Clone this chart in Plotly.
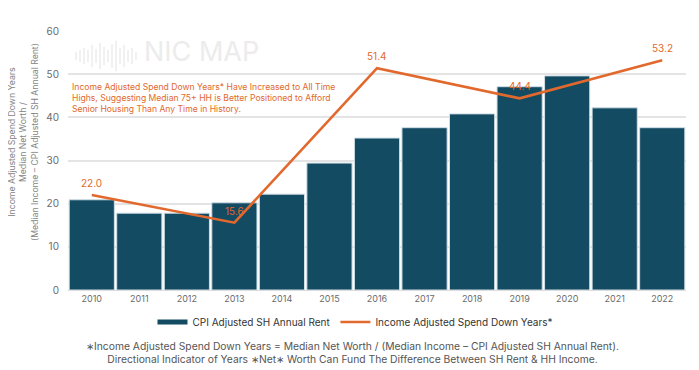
import plotly.graph_objects as go

years = ["2010", "2011", "2012", "2013", "2014", "2015", "2016", "2017", "2018", "2019", "2020", "2021", "2022"]
rent_values = [20.9, 17.8, 17.8, 20.2, 22.2, 29.4, 35.2, 37.6, 40.8, 47.1, 49.6, 42.2, 37.6]
spend_down_years = [22.0, None, None, 15.6, None, None, 51.4, None, None, 44.4, None, None, 53.2]

BAR = "#134B63"
LINE = "#E2692D"
GRAY = "#6b6b6b"
FONT = "Inter"

# page offset (body margin) compensation
OFF = 8
# plot area in reference pixels
L, R, T, B = 68, 686, 31, 290
W, H = R - L, B - T


def px(x):
    return (x - L) / W


def py(y):
    return (B - y) / H


fig = go.Figure()
fig.add_trace(go.Bar(
    x=years, y=rent_values, name="CPI Adjusted SH Annual Rent", showlegend=False,
    marker=dict(color=BAR, line=dict(color="#cfdde4", width=1)),
))
fig.add_trace(go.Scatter(
    x=[years[0]], y=[None], name="CPI Adjusted SH Annual Rent", mode="lines",
    line=dict(color=BAR, width=5),
))
fig.add_trace(go.Scatter(
    x=years, y=spend_down_years, name="Income Adjusted Spend Down Years*",
    mode="lines", connectgaps=True,
    line=dict(color=LINE, width=2.6),
))

fig.update_layout(
    width=699, height=370,
    margin=dict(l=L - OFF, r=699 - R + OFF, t=T - OFF, b=370 - B + OFF, autoexpand=False),
    paper_bgcolor="white", plot_bgcolor="white",
    font=dict(family=FONT, size=9, color=GRAY),
    bargap=0.05,
    showlegend=True,
    legend=dict(orientation="h", x=(355 - OFF) / 699, xanchor="center",
                xref="container", yref="container", y=1 - (322 - OFF) / 370, yanchor="middle",
                font=dict(size=10, color="#333333", family=FONT)),
    xaxis=dict(type="category", showgrid=False, tickfont=dict(size=9, color=GRAY), ticks="",
               showline=True, linecolor="#dddddd", automargin=False),
    yaxis=dict(range=[0, 60], dtick=10, showgrid=True, gridcolor="#e4e4e4",
               gridwidth=1.5, zeroline=False, tickfont=dict(size=10, color=GRAY),
               ticks="", ticklabelstandoff=8, automargin=False),
)

annotations = [
    dict(text="Income Adjusted Spend Down Years<br>Median Net Worth /<br>(Median Income \u2013 CPI Adjusted SH Annual Rent)",
         x=px(23), y=py(142), xref="paper", yref="paper", textangle=-90, showarrow=False,
         font=dict(size=8.7, color="#858585", family=FONT), xanchor="center", yanchor="middle"),
    dict(text="Income Adjusted Spend Down Years* Have Increased to All Time<br>Highs, Suggesting Median 75+ HH is Better Positioned to Afford<br>Senior Housing Than Any Time in History.",
         x=px(70), y=py(98), xref="paper", yref="paper", showarrow=False, align="left",
         xanchor="left", yanchor="middle", font=dict(size=8.6, color=LINE, family=FONT)),
    dict(text="NIC MAP", x=px(142), y=py(52), xref="paper", yref="paper", showarrow=False,
         xanchor="left", yanchor="middle", font=dict(size=27, color="#ececec", family=FONT)),
    dict(text="\u2217Income Adjusted Spend Down Years = Median Net Worth / (Median Income \u2013 CPI Adjusted SH Annual Rent).<br>Directional Indicator of Years \u2217Net\u2217 Worth Can Fund The Difference Between SH Rent & HH Income.",
         x=px(352), y=py(352), xref="paper", yref="paper", showarrow=False, align="center",
         xanchor="center", yanchor="middle", font=dict(size=10.3, color="#555555", family=FONT)),
]
# value labels on the line's data points (category index positions)
for i, val in enumerate(spend_down_years):
    if val is not None:
        annotations.append(dict(x=i, y=val, xref="x", yref="y", text=f"{val:.1f}",
                                showarrow=False, yshift=12, xanchor="center", yanchor="middle",
                                font=dict(size=10, color=LINE, family=FONT)))
fig.update_layout(annotations=annotations)

# watermark icon (decorative vertical bars)
icon_x = [76, 80, 84, 88, 92, 96, 100, 104, 108, 112, 116, 120, 124, 128, 132, 136]
icon_h = [8, 12, 16, 12, 22, 14, 26, 18, 12, 24, 30, 16, 22, 12, 16, 8]
shapes = []
for xi, hi in zip(icon_x, icon_h):
    shapes.append(dict(type="line", xref="paper", yref="paper",
                       x0=px(xi), x1=px(xi),
                       y0=py(56 + hi / 2), y1=py(56 - hi / 2),
                       line=dict(color="#ececec", width=1.5), layer="below"))
fig.update_layout(shapes=shapes)

fig.write_html("out.html")
